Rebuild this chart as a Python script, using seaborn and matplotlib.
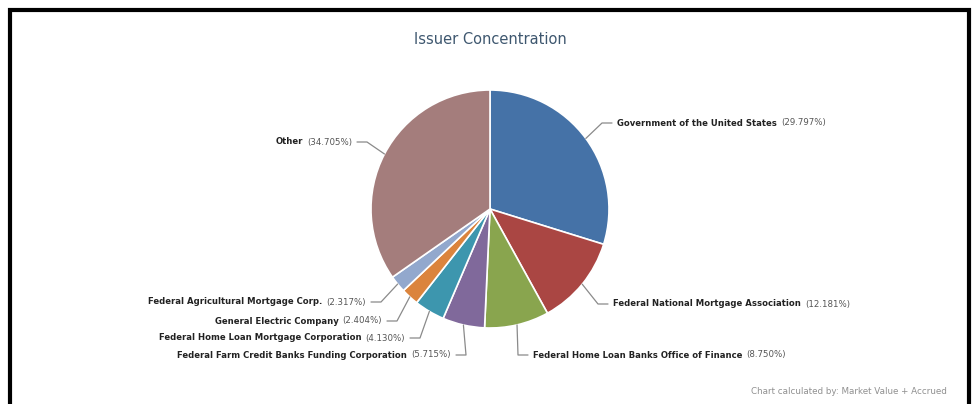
import numpy as np
import matplotlib
matplotlib.use("Agg")
import matplotlib.pyplot as plt
import seaborn as sns

# ------------------------------------------------------------
# DATA
# ------------------------------------------------------------
issuers = [
    "Government of the United States",
    "Federal National Mortgage Association",
    "Federal Home Loan Banks Office of Finance",
    "Federal Farm Credit Banks Funding Corporation",
    "Federal Home Loan Mortgage Corporation",
    "General Electric Company",
    "Federal Agricultural Mortgage Corp.",
    "Other",
]
weights = [29.797, 12.181, 8.750, 5.715, 4.130, 2.404, 2.317, 34.705]
colors = ["#4572A7", "#AA4643", "#89A54E", "#80699B",
          "#3D96AE", "#DB843D", "#92A8CD", "#A47D7C"]

title = "Issuer Concentration"
footer = "Chart calculated by: Market Value + Accrued"

# label layout in pixels (side, text x, text y) - top-left origin
label_layout = [
    ("right", 617, 123),
    ("right", 613, 304),
    ("right", 533, 355),
    ("left", 451, 355),
    ("left", 405, 338),
    ("left", 382, 321),
    ("left", 366, 302),
    ("left", 352, 142),
]

W, H = 973, 404
cx, cy, r = 490, 209, 119

sns.set_theme(style="white")
plt.rcParams["font.family"] = ["DejaVu Sans"]

fig = plt.figure(figsize=(W / 100, H / 100), dpi=100)
ax = fig.add_axes([0, 0, 1, 1])

wedges, _ = ax.pie(
    weights,
    colors=sns.color_palette(colors),
    startangle=90,
    counterclock=False,
    center=(cx, H - cy),
    radius=r,
    wedgeprops=dict(edgecolor="white", linewidth=1.2),
)
ax.set_xlim(0, W)
ax.set_ylim(0, H)
ax.set_aspect("equal")
ax.axis("off")

conn_color = "#8a8a8a"
name_size = 6.1
pct_size = 6.2
for w, name, val, (side, tx, ty) in zip(wedges, issuers, weights, label_layout):
    mid = np.deg2rad((w.theta1 + w.theta2) / 2)
    ex = cx + r * np.cos(mid)
    ey = (H - cy) + r * np.sin(mid)
    ly = H - ty
    sgn = 1 if side == "right" else -1
    xs = [ex, tx - sgn * 15, tx - sgn * 5]
    ys = [ey, ly, ly]
    ax.plot(xs, ys, color=conn_color, lw=0.9, solid_capstyle="round")

    pct = f"({val:.3f}%)"
    if side == "right":
        t1 = ax.text(tx, ly, name, ha="left", va="center", fontsize=name_size,
                     fontweight="bold", color="#222222")
        ax.annotate(pct, xy=(1, 0.5), xycoords=t1, xytext=(3, 0),
                    textcoords="offset points", ha="left", va="center",
                    fontsize=pct_size, color="#555555")
    else:
        t2 = ax.text(tx, ly, pct, ha="right", va="center", fontsize=pct_size,
                     color="#555555")
        ax.annotate(name, xy=(0, 0.5), xycoords=t2, xytext=(-3, 0),
                    textcoords="offset points", ha="right", va="center",
                    fontsize=name_size, fontweight="bold", color="#222222")

ax.text(490, H - 39, title, ha="center", va="center", fontsize=10.5,
        color="#3E576F")
ax.text(947, H - 391, footer, ha="right", va="center", fontsize=6.3,
        color="#909090")

# black frame (top, left, right)
ax.plot([10, 10, 969, 969], [0, H - 10, H - 10, 0], color="black", lw=3,
        solid_joinstyle="miter", clip_on=False)

fig.savefig("out.png", dpi=100, facecolor="white")
